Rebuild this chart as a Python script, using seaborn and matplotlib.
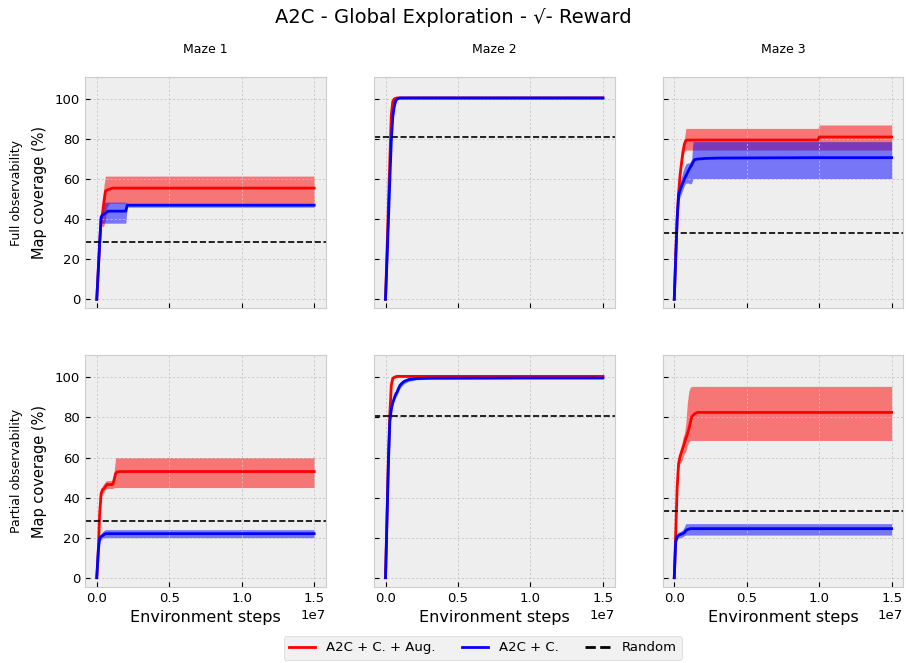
import matplotlib
matplotlib.use("Agg")
import matplotlib.pyplot as plt
from matplotlib.lines import Line2D
import numpy as np
import pandas as pd
import seaborn as sns

# environment steps shared by every curve
steps = [0, 1e5, 2e5, 3e5, 4e5, 5e5, 6e5, 7e5, 8e5, 9e5, 1.0e6, 1.1e6,
         1.2e6, 1.3e6, 1.4e6, 1.6e6, 2.0e6, 2.1e6, 3.0e6, 9.9e6, 1.0e7, 1.5e7]

mazes = ["Maze 1", "Maze 2", "Maze 3"]
observations = ["Full observability", "Partial observability"]
methods = ["A2C + C. + Aug.", "A2C + C."]
colors = ["red", "blue"]

random_full = [28.7, 81.2, 33.2]
random_partial = [28.2, 80.9, 33.5]

# Maze 1, full observability
m1_full_aug = [0, 14, 28, 40, 43, 49, 54, 54.5, 54.8, 55, 55.3, 55.5, 55.5, 55.5, 55.5, 55.5, 55.5, 55.5, 55.5, 55.5, 55.5, 55.5]
m1_full_aug_lo = [0, 13, 26, 37, 36, 37, 40, 46, 47, 48, 48, 48, 48, 48, 48, 48, 48, 48, 48, 48, 48, 48]
m1_full_aug_hi = [0, 15, 30, 43, 48, 57, 61.5, 61.5, 61.5, 61.5, 61.5, 61.5, 61.5, 61.5, 61.5, 61.5, 61.5, 61.5, 61.5, 61.5, 61.5, 61.5]
m1_full_c = [0, 14, 28, 41, 42, 42.5, 43, 43.5, 44, 44, 44, 44, 44, 44, 44, 44, 44, 47, 47, 47, 47, 47]
m1_full_c_lo = [0, 13, 26, 38, 38, 38, 38, 38, 38, 38, 38, 38, 38, 38, 38, 38, 38, 46, 46, 46, 46, 46]
m1_full_c_hi = [0, 15, 30, 43, 46, 48.5, 48.5, 48.5, 48.5, 48.5, 48.5, 48.5, 48.5, 48.5, 48.5, 48.5, 48.5, 48, 48, 48, 48, 48]

# Maze 1, partial observability
m1_part_aug = [0, 12, 32, 42, 44, 44.5, 45.5, 46.5, 46.5, 46.5, 46.5, 46.5, 49, 52, 52.8, 53, 53, 53, 53, 53, 53, 53]
m1_part_aug_lo = [0, 11, 30, 40, 42, 43, 44, 44.5, 44.5, 44.5, 44.5, 44.5, 45, 45, 45, 45, 45, 45, 45, 45, 45, 45]
m1_part_aug_hi = [0, 13, 34, 44.5, 46, 47, 48, 48.5, 48.5, 48.5, 48.5, 48.5, 53, 60, 60, 60, 60, 60, 60, 60, 60, 60]
m1_part_c = [0, 13, 19.8, 20.5, 21, 21.5, 22, 22, 22, 22, 22, 22, 22, 22, 22, 22, 22, 22, 22, 22, 22, 22]
m1_part_c_lo = [0, 12, 18.5, 19, 19.5, 19.7, 20, 20, 20, 20, 20, 20, 20, 20, 20, 20, 20, 20, 20, 20, 20, 20]
m1_part_c_hi = [0, 14, 21, 22, 23, 23.5, 24, 24, 24, 24, 24, 24, 24, 24, 24, 24, 24, 24, 24, 24, 24, 24]

# Maze 2, full observability
m2_full_aug = [0, 23, 47, 70, 92, 98.7, 100, 100.3, 100.5, 100.5, 100.5, 100.5, 100.5, 100.5, 100.5, 100.5, 100.5, 100.5, 100.5, 100.5, 100.5, 100.5]
m2_full_aug_lo = [0, 22, 46, 69, 91, 98, 99.4, 99.8, 100, 100, 100, 100, 100, 100, 100, 100, 100, 100, 100, 100, 100, 100]
m2_full_aug_hi = [0, 24, 48, 71, 93, 99.3, 100.5, 100.8, 101, 101, 101, 101, 101, 101, 101, 101, 101, 101, 101, 101, 101, 101]
m2_full_c = [0, 19, 39, 60, 79, 91, 96, 99, 100, 100.3, 100.5, 100.5, 100.5, 100.5, 100.5, 100.5, 100.5, 100.5, 100.5, 100.5, 100.5, 100.5]
m2_full_c_lo = [0, 18, 38, 59, 78, 90, 95, 98.3, 99.5, 99.8, 100, 100, 100, 100, 100, 100, 100, 100, 100, 100, 100, 100]
m2_full_c_hi = [0, 20, 40, 61, 80, 92, 97, 99.7, 100.5, 100.8, 101, 101, 101, 101, 101, 101, 101, 101, 101, 101, 101, 101]

# Maze 2, partial observability
m2_part_aug = [0, 30, 60, 82, 96, 99.5, 100, 100.3, 100.5, 100.5, 100.5, 100.5, 100.5, 100.5, 100.5, 100.5, 100.5, 100.5, 100.5, 100.5, 100.5, 100.5]
m2_part_aug_lo = [0, 29, 59, 81, 95, 99, 99.5, 99.8, 100, 100, 100, 100, 100, 100, 100, 100, 100, 100, 100, 100, 100, 100]
m2_part_aug_hi = [0, 31, 61, 83, 97, 100, 100.5, 100.8, 101, 101, 101, 101, 101, 101, 101, 101, 101, 101, 101, 101, 101, 101]
m2_part_c = [0, 28, 57, 78, 84, 87.5, 89.5, 91.5, 92.7, 94.5, 96, 96.8, 97.5, 98, 98.3, 98.9, 99.3, 99.4, 99.6, 99.7, 99.7, 99.7]
m2_part_c_lo = [0, 27, 55.5, 76.5, 82.5, 86, 88, 90, 91.2, 93, 94.5, 95.5, 96.3, 96.9, 97.3, 98, 98.6, 98.8, 99.1, 99.3, 99.3, 99.3]
m2_part_c_hi = [0, 29, 58.5, 79.5, 85.5, 89, 91, 93, 94.2, 96, 97.5, 98.1, 98.7, 99.1, 99.3, 99.8, 100, 100, 100.1, 100.1, 100.1, 100.1]

# Maze 3, full observability
m3_full_aug = [0, 22, 40, 53, 62, 68, 73.5, 77.5, 79.3, 79.5, 79.5, 79.5, 79.5, 79.5, 79.5, 79.5, 79.5, 79.5, 79.5, 79.5, 81, 81]
m3_full_aug_lo = [0, 20, 38, 51, 60, 66, 71, 74, 74.5, 74.5, 74.5, 74.5, 74.5, 74.5, 74.5, 74.5, 74.5, 74.5, 74.5, 74.5, 74.5, 74.5]
m3_full_aug_hi = [0, 24, 42, 55, 64, 70, 76, 80, 85.3, 85.3, 85.3, 85.3, 85.3, 85.3, 85.3, 85.3, 85.3, 85.3, 85.3, 85.3, 87, 87]
m3_full_c = [0, 20, 40, 52, 54.5, 56.5, 58.3, 60, 61.5, 63, 64.5, 65.8, 67, 68.5, 69.7, 70, 70.2, 70.3, 70.5, 70.7, 70.7, 70.7]
m3_full_c_lo = [0, 18, 38, 49, 51, 53, 55, 57, 58, 58, 58, 57.5, 58, 60.3, 60.3, 60.3, 60.3, 60.3, 60.3, 60.3, 60.3, 60.3]
m3_full_c_hi = [0, 22, 42, 55, 58, 61, 64, 66, 67.5, 68, 68, 68.5, 70, 78.7, 78.7, 78.7, 78.7, 78.7, 78.7, 78.7, 78.7, 78.7]

# Maze 3, partial observability
m3_part_aug = [0, 22, 45, 57, 60.5, 62.8, 65, 67, 69.5, 71.5, 74, 77, 80.3, 81, 81.8, 82.5, 82.5, 82.5, 82.5, 82.5, 82.5, 82.5]
m3_part_aug_lo = [0, 20, 43, 55, 57, 58, 60, 62, 63, 66, 67.5, 68.5, 68.5, 68.5, 68.5, 68.5, 68.5, 68.5, 68.5, 68.5, 68.5, 68.5]
m3_part_aug_hi = [0, 24, 47, 60, 63, 66, 70, 72, 77, 87, 93, 95, 95.5, 95.5, 95.5, 95.5, 95.5, 95.5, 95.5, 95.5, 95.5, 95.5]
m3_part_c = [0, 18, 20.5, 21.2, 21.5, 21.8, 22, 22.5, 23.5, 24, 24.2, 24.5, 24.5, 24.5, 24.5, 24.5, 24.5, 24.5, 24.5, 24.5, 24.5, 24.5]
m3_part_c_lo = [0, 16.5, 19, 19.8, 20, 20.2, 20.5, 21, 21.3, 21.3, 21.3, 21.3, 21.3, 21.3, 21.3, 21.3, 21.3, 21.3, 21.3, 21.3, 21.3, 21.3]
m3_part_c_hi = [0, 19.5, 22, 22.7, 23, 23.5, 24, 25.5, 27, 27, 27, 27, 27, 27, 27, 27, 27, 27, 27, 27, 27, 27]

curves = {
    ("Full observability", "Maze 1"): [(m1_full_aug, m1_full_aug_lo, m1_full_aug_hi), (m1_full_c, m1_full_c_lo, m1_full_c_hi)],
    ("Full observability", "Maze 2"): [(m2_full_aug, m2_full_aug_lo, m2_full_aug_hi), (m2_full_c, m2_full_c_lo, m2_full_c_hi)],
    ("Full observability", "Maze 3"): [(m3_full_aug, m3_full_aug_lo, m3_full_aug_hi), (m3_full_c, m3_full_c_lo, m3_full_c_hi)],
    ("Partial observability", "Maze 1"): [(m1_part_aug, m1_part_aug_lo, m1_part_aug_hi), (m1_part_c, m1_part_c_lo, m1_part_c_hi)],
    ("Partial observability", "Maze 2"): [(m2_part_aug, m2_part_aug_lo, m2_part_aug_hi), (m2_part_c, m2_part_c_lo, m2_part_c_hi)],
    ("Partial observability", "Maze 3"): [(m3_part_aug, m3_part_aug_lo, m3_part_aug_hi), (m3_part_c, m3_part_c_lo, m3_part_c_hi)],
}

rows = []
for (obs, maze), series in curves.items():
    for method, (mean, lo, hi) in zip(methods, series):
        for s, m, l, h in zip(steps, mean, lo, hi):
            rows.append({"obs": obs, "maze": maze, "method": method, "step": s, "cov": m, "lo": l, "hi": h})
df = pd.DataFrame(rows)

plt.style.use("bmh")
plt.rcParams["grid.color"] = "#c4c4c4"
plt.rcParams["grid.linestyle"] = (0, (2.5, 2.5))
plt.rcParams["grid.linewidth"] = 0.6
plt.rcParams["axes.edgecolor"] = "#cccccc"

fig, axes = plt.subplots(2, 3, figsize=(9.06, 6.63), dpi=100, sharex=True, sharey=True)
fig.subplots_adjust(left=0.094, right=0.997, bottom=0.115, top=0.884, wspace=0.2, hspace=0.203)

palette = dict(zip(methods, colors))
for i, obs in enumerate(observations):
    randoms = random_full if i == 0 else random_partial
    for j, maze in enumerate(mazes):
        ax = axes[i, j]
        sub = df[(df["obs"] == obs) & (df["maze"] == maze)]
        for method in methods:
            s = sub[sub["method"] == method]
            ax.fill_between(s["step"], s["lo"], s["hi"], color=palette[method], alpha=0.5, lw=0)
        sns.lineplot(data=sub, x="step", y="cov", hue="method", palette=palette,
                     ax=ax, legend=False, lw=2)
        ax.axhline(randoms[j], color="black", ls="--", lw=1.2)
        ax.set_xlim(-0.08e7, 1.58e7)
        ax.set_ylim(-4.5, 111)
        ax.set_yticks([0, 20, 40, 60, 80, 100])
        ax.set_xticks([0, 0.5e7, 1.0e7, 1.5e7])
        ax.tick_params(labelsize=9.5)
        ax.xaxis.get_offset_text().set_fontsize(9.5)
        ax.set_xlabel("")
        ax.set_ylabel("")
        if i == 0:
            ax.set_title(maze, fontsize=9, pad=17)
        if i == 1:
            ax.set_xlabel("Environment steps", fontsize=11.5)
        if j == 0:
            ax.set_ylabel("Map coverage (%)", fontsize=10.5, labelpad=6)
            pos = ax.get_position()
            fig.text(0.018, (pos.y0 + pos.y1) / 2, obs, rotation=90,
                     ha="center", va="center", fontsize=9)

handles = [Line2D([], [], color="red", lw=2),
           Line2D([], [], color="blue", lw=2),
           Line2D([], [], color="black", ls="--", lw=2)]
fig.legend(handles, methods + ["Random"], loc="lower center",
           bbox_to_anchor=(0.533, -0.005), ncol=3, fontsize=9.5)

fig.suptitle("A2C - Global Exploration - √- Reward", fontsize=14, y=0.988)

fig.savefig("out.png", dpi=100)
